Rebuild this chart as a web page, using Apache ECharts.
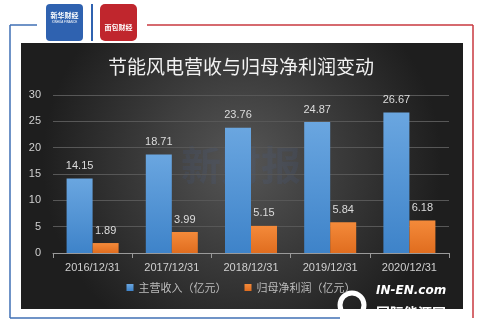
<!DOCTYPE html>
<html>
<head>
<meta charset="utf-8">
<script src="https://cdn.jsdelivr.net/npm/echarts@6/dist/echarts.min.js"></script>
<style>
  html, body { margin: 0; padding: 0; background: #fff; }
  #chart { width: 482px; height: 333px; }
</style>
</head>
<body>
<div id="chart"></div>
<script>
// Data
const categories = ['2016/12/31', '2017/12/31', '2018/12/31', '2019/12/31', '2020/12/31'];
const revenue = [14.15, 18.71, 23.76, 24.87, 26.67];
const netProfit = [1.89, 3.99, 5.15, 5.84, 6.18];
const seriesNames = ['主营收入（亿元）', '归母净利润（亿元）'];
const yTicks = [0, 5, 10, 15, 20, 25, 30];

const FONT = '"Noto Sans CJK SC", "DejaVu Sans", sans-serif';
const NUM_FONT = '"Liberation Sans", "DejaVu Sans", sans-serif';

const chart = echarts.init(document.getElementById('chart'));

chart.setOption({
  animation: false,
  backgroundColor: '#fff',
  title: {
    text: '节能风电营收与归母净利润变动',
    left: 'center',
    top: 52,
    textStyle: { color: '#f2f2f2', fontSize: 19, fontWeight: 'normal', fontFamily: FONT }
  },
  graphic: [
    // dark panel
    {
      type: 'rect', z: -10,
      shape: { x: 21, y: 43, width: 442, height: 266 },
      style: {
        fill: {
          type: 'radial', x: 0.5, y: 0.45, r: 0.75,
          colorStops: [{ offset: 0, color: '#565656' }, { offset: 1, color: '#1e1e1e' }]
        }
      }
    },
    // frame lines
    { type: 'line', shape: { x1: 10, y1: 25, x2: 37, y2: 25 }, style: { stroke: '#3f6fb5', lineWidth: 1.5 } },
    { type: 'line', shape: { x1: 10, y1: 25, x2: 10, y2: 318 }, style: { stroke: '#3f6fb5', lineWidth: 1.5 } },
    { type: 'line', shape: { x1: 10, y1: 318, x2: 340, y2: 318 }, style: { stroke: '#3f6fb5', lineWidth: 1.5 } },
    { type: 'line', shape: { x1: 147, y1: 25, x2: 473, y2: 25 }, style: { stroke: '#c8383f', lineWidth: 1.5 } },
    { type: 'line', shape: { x1: 473, y1: 25, x2: 473, y2: 318 }, style: { stroke: '#c8383f', lineWidth: 1.5 } },
    // logos
    { type: 'rect', shape: { x: 46, y: 4, width: 37, height: 37, r: 4 }, style: { fill: '#2f62b0' } },
    { type: 'text', style: { x: 64.5, y: 15, text: '新华财经', fill: '#fff', font: 'bold 7px ' + FONT, align: 'center', verticalAlign: 'middle' } },
    { type: 'text', style: { x: 64.5, y: 22, text: 'XINHUA FINANCE', fill: '#fff', font: '3px sans-serif', align: 'center', verticalAlign: 'middle' } },
    { type: 'line', shape: { x1: 92, y1: 4, x2: 92, y2: 41 }, style: { stroke: '#2f62b0', lineWidth: 2 } },
    { type: 'rect', shape: { x: 100, y: 4, width: 37, height: 37, r: 5 }, style: { fill: '#c0262d' } },
    { type: 'text', style: { x: 118.5, y: 27, text: '面包财经', fill: '#fff', font: 'bold 7px ' + FONT, align: 'center', verticalAlign: 'middle' } },
    // watermark
    { type: 'text', z: -5, style: { x: 241, y: 165, text: '新财报', fill: 'rgba(70,110,190,0.10)', font: 'bold 40px ' + FONT, align: 'center', verticalAlign: 'middle' } },
    // in-en logo
    { type: 'circle', shape: { cx: 352, cy: 305, r: 12 }, style: { fill: 'none', stroke: '#fff', lineWidth: 5 } },
    { type: 'text', style: { x: 376, y: 291, text: 'IN-EN.com', fill: '#fff', font: 'bold italic 12px "DejaVu Sans", sans-serif', verticalAlign: 'middle' } },
    { type: 'text', style: { x: 376, y: 313, text: '国际能源网', fill: '#fff', font: 'bold 14px ' + FONT, verticalAlign: 'middle' } }
  ],
  legend: {
    bottom: 35,
    left: 'center',
    itemWidth: 7,
    itemHeight: 7,
    itemGap: 18,
    icon: 'rect',
    textStyle: { color: '#bdbdbd', fontSize: 11, fontFamily: FONT },
    data: seriesNames
  },
  grid: { left: 53, right: 33, top: 95, bottom: 80 },
  xAxis: {
    type: 'category',
    data: categories,
    axisLine: { lineStyle: { color: '#9a9a9a' } },
    axisTick: { show: true, length: 5, lineStyle: { color: '#9a9a9a' } },
    axisLabel: { interval: 0, color: '#d0d0d0', fontSize: 11, margin: 9, fontFamily: NUM_FONT }
  },
  yAxis: {
    type: 'value',
    min: yTicks[0],
    max: yTicks[yTicks.length - 1],
    interval: 5,
    axisLine: { show: false },
    axisTick: { show: false },
    splitLine: { lineStyle: { color: '#575757' } },
    axisLabel: { color: '#d0d0d0', fontSize: 11, margin: 12, fontFamily: NUM_FONT }
  },
  series: [
    {
      name: seriesNames[0],
      type: 'bar',
      data: revenue,
      barWidth: 26,
      barGap: '0%',
      itemStyle: {
        color: {
          type: 'linear', x: 0, y: 0, x2: 0, y2: 1,
          colorStops: [{ offset: 0, color: '#6aa6e0' }, { offset: 1, color: '#3e83c9' }]
        }
      },
      label: { show: true, position: 'top', distance: 7, color: '#dcdcdc', fontSize: 11, fontFamily: NUM_FONT }
    },
    {
      name: seriesNames[1],
      type: 'bar',
      data: netProfit,
      barWidth: 26,
      barGap: '0%',
      itemStyle: {
        color: {
          type: 'linear', x: 0, y: 0, x2: 0, y2: 1,
          colorStops: [{ offset: 0, color: '#f48a3a' }, { offset: 1, color: '#e06d1f' }]
        }
      },
      label: { show: true, position: 'top', distance: 7, color: '#dcdcdc', fontSize: 11, fontFamily: NUM_FONT }
    }
  ]
});
</script>
</body>
</html>
